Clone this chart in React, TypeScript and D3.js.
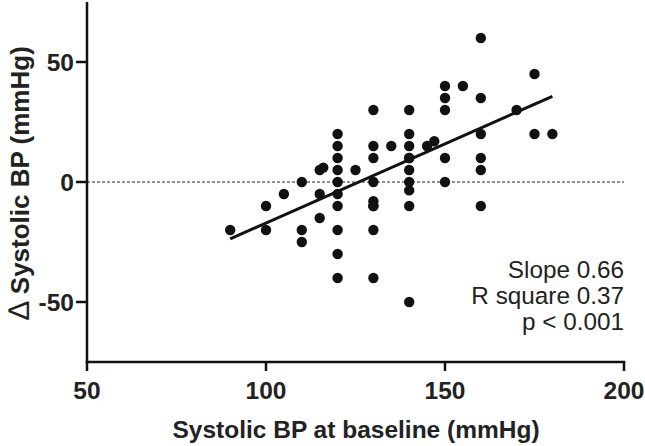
import React from "react";
import * as d3 from "d3";

const baselineBP: number[] = [
  90, 100, 100, 105, 110, 110, 110, 115, 116, 115, 115,
  120, 120, 120, 120, 120, 120, 120, 120, 120, 120,
  125,
  130, 130, 130, 130, 130, 130, 130, 130, 130,
  135,
  140, 140, 140, 140, 140, 140, 140, 140, 140, 140,
  145, 147,
  150, 150, 150, 150, 150,
  155,
  160, 160, 160, 160, 160, 160,
  170, 175, 175, 180,
];
const deltaBP: number[] = [
  -20, -10, -20, -5, 0, -20, -25, 5, 6, -5, -15,
  20, 15, 10, 5, 0, -5, -10, -20, -30, -40,
  5,
  30, 15, 10, 0, -8, -10, -20, -40, -10,
  15,
  30, 20, 15, 10, 5, 0, -3.5, -10, -50, 10,
  15, 17,
  40, 35, 30, 10, 0,
  40,
  60, 35, 20, 10, 5, -10,
  30, 45, 20, 20,
];
const xTicks = [50, 100, 150, 200];
const yTicks = [-50, 0, 50];
const fitSlope = 0.66;
const fitIntercept = -83.1;
const fitRange = [90, 180];
const statLines = ["Slope 0.66", "R square 0.37", "p < 0.001"];

export default function App() {
  const W = 645, H = 446;
  const x = d3.scaleLinear().domain([50, 200]).range([87, 624]);
  const y = d3.scaleLinear().domain([-75, 75]).range([362, 2]);
  const font = "'Liberation Sans', Arial, sans-serif";
  const fitLine = d3.line<number>().x((d) => x(d)).y((d) => y(fitSlope * d + fitIntercept));
  return (
    <svg width={W} height={H} style={{ position: "absolute", left: 0, top: 0, background: "#fff" }}>
      <line x1={x(50)} x2={x(200)} y1={y(0)} y2={y(0)} stroke="#222" strokeWidth={1.2} strokeDasharray="3,2" />
      {baselineBP.map((b, i) => (
        <circle key={i} cx={x(b)} cy={y(deltaBP[i])} r={5.2} fill="#111" />
      ))}
      <path d={fitLine(fitRange) || ""} stroke="#111" strokeWidth={3} fill="none" />
      <line x1={x(50)} x2={x(50)} y1={y(75)} y2={y(-75) + 1.25} stroke="#111" strokeWidth={2.5} />
      <line x1={x(50) - 1.25} x2={x(200) + 1.25} y1={y(-75)} y2={y(-75)} stroke="#111" strokeWidth={2.5} />
      {yTicks.map((t) => (
        <g key={"y" + t}>
          <line x1={x(50) - 11} x2={x(50)} y1={y(t)} y2={y(t)} stroke="#111" strokeWidth={2.5} />
          <text x={x(50) - 13} y={y(t)} dy="0.36em" textAnchor="end" fontFamily={font} fontWeight="bold" fontSize={24.5} fill="#222">
            {t}
          </text>
        </g>
      ))}
      {xTicks.map((t) => (
        <g key={"x" + t}>
          <line x1={x(t)} x2={x(t)} y1={y(-75)} y2={y(-75) + 9} stroke="#111" strokeWidth={2.5} />
          <text x={x(t)} y={399} textAnchor="middle" fontFamily={font} fontWeight="bold" fontSize={24.5} fill="#222">
            {t}
          </text>
        </g>
      ))}
      <text x={356} y={438} textAnchor="middle" fontFamily={font} fontWeight="bold" fontSize={24.5} fill="#222">
        Systolic BP at baseline (mmHg)
      </text>
      <text transform={`translate(29,${y(0) + 1}) rotate(-90)`} textAnchor="middle" fontFamily={font} fontWeight="bold" fontSize={26} fill="#222">
        <tspan fontWeight="normal" fontSize={30}>∆</tspan> Systolic BP (mmHg)
      </text>
      {statLines.map((s, i) => (
        <text key={s} x={624} y={277.5 + i * 26.3} textAnchor="end" fontFamily={font} fontSize={24.3} fill="#222">
          {s}
        </text>
      ))}
    </svg>
  );
}
